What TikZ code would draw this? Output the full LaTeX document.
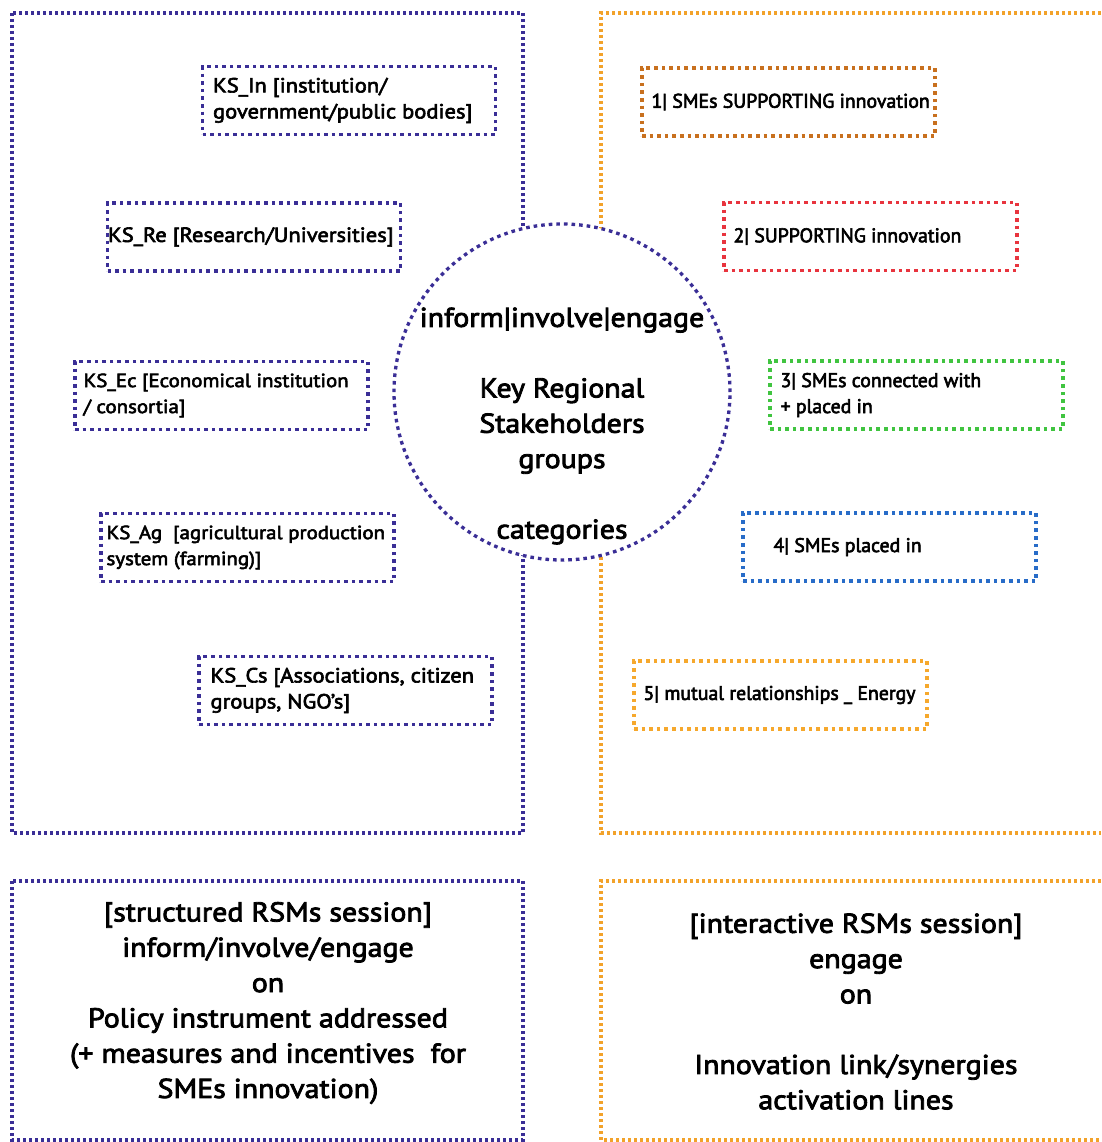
\documentclass[tikz,border=0pt]{standalone}
\usepackage{fontspec}
\setmainfont{PT Sans}
\newfontfamily\ksfont{PT Sans}[FakeStretch=1.1, FakeBold=3]
\newfontfamily\smefont{PT Sans}[FakeBold=3]
\usetikzlibrary{positioning}

\definecolor{ksblue}{RGB}{58,46,150}
\definecolor{panelorange}{RGB}{242,162,42}
\definecolor{smebrown}{RGB}{200,112,30}
\definecolor{smered}{RGB}{232,52,62}
\definecolor{smegreen}{RGB}{64,196,64}
\definecolor{smeblue}{RGB}{40,108,200}
\definecolor{smeorange}{RGB}{246,168,44}

\tikzset{
  dots/.style={line width=3.3pt, dash pattern=on 3.6pt off 4pt},
  paneldots/.style={line width=3.2pt, dash pattern=on 3pt off 3pt},
  catbox/.style={draw=#1, dots, rectangle, minimum width=293pt,
    minimum height=68pt, inner sep=0pt},
  kstext/.style={inner sep=0pt, align=left,
    font=\ksfont\fontsize{#1}{26}\selectfont},
  kstext/.default=20.5,
  smetext/.style={inner sep=0pt, align=left,
    font=\smefont\fontsize{19.8}{26}\selectfont},
  bigtext/.style={inner sep=0pt, align=center,
    font=\ksfont\fontsize{27.2}{35.3}\selectfont}
}

\begin{document}
\begin{tikzpicture}[x=1pt, y=-1pt]
  \useasboundingbox (0,0) rectangle (1101,1142);

  % Outer panels
  \draw[ksblue, paneldots] (12,13) rectangle (523,833);
  \draw[panelorange, paneldots] (1101,13) -- (601,13) -- (601,833) -- (1101,833);
  \draw[ksblue, paneldots] (12,881) rectangle (523,1140);
  \draw[panelorange, paneldots] (1101,881) -- (601,881) -- (601,1140) -- (1101,1140);

  % Central circle
  \node[circle, draw=ksblue, dots, fill=white, minimum size=336pt,
    inner sep=0pt] (krs) at (562,392) {};
  \node[bigtext] (krstext) at (562,426)
    {inform|involve|engage\\[35.3pt]Key Regional\\Stakeholders\\groups\\[35.3pt]categories};

  % Stakeholder groups (left)
  \node[catbox=ksblue] (ksin) at (349,100.5) {};
  \node[kstext, right=12pt of ksin.west] (ksintext)
    {KS\_In [institution/\\government/public bodies]};
  \node[catbox=ksblue] (ksre) at (254,237) {};
  \node[kstext, right=2pt of ksre.west] (ksretext)
    {KS\_Re [Research/Universities]};
  \node[catbox=ksblue] (ksec) at (221.5,395.5) {};
  \node[kstext=19, right=10pt of ksec.west] (ksectext)
    {KS\_Ec [Economical institution\\/ consortia]};
  \node[catbox=ksblue] (ksag) at (247.5,547.5) {};
  \node[kstext=19, right=7pt of ksag.west] (ksagtext)
    {KS\_Ag\ \ [agricultural production\\system (farming)]};
  \node[catbox=ksblue] (kscs) at (345.5,690.5) {};
  \node[kstext, right=13pt of kscs.west] (kscstext)
    {KS\_Cs [Associations, citizen\\groups, NGO’s]};

  % SME categories (right)
  \node[catbox=smebrown] (sme1) at (788.5,102) {};
  \node[smetext, right=11pt of sme1.west] (sme1text)
    {1| SMEs SUPPORTING innovation};
  \node[catbox=smered] (sme2) at (870.5,236.5) {};
  \node[smetext, right=11pt of sme2.west] (sme2text)
    {2| SUPPORTING innovation};
  \node[catbox=smegreen] (sme3) at (916.5,395) {};
  \node[smetext, right=12pt of sme3.west] (sme3text)
    {3| SMEs connected with\\+ placed in};
  \node[catbox=smeblue] (sme4) at (889.5,547) {};
  \node[smetext, right=32pt of sme4.west] (sme4text)
    {4| SMEs placed in};
  \node[catbox=smeorange] (sme5) at (780.5,695) {};
  \node[smetext, right=11pt of sme5.west] (sme5text)
    {5| mutual relationships \_ Energy};

  % Sessions
  \node[bigtext] (structured) at (268,1003)
    {[structured RSMs session]\\inform/involve/engage\\on\\Policy instrument addressed\\(+ measures and incentives\ \ for\\SMEs innovation)};
  \node[bigtext] (interactive) at (856,1011.5)
    {[interactive RSMs session]\\engage\\on\\[35.3pt]Innovation link/synergies\\activation lines};
\end{tikzpicture}
\end{document}
